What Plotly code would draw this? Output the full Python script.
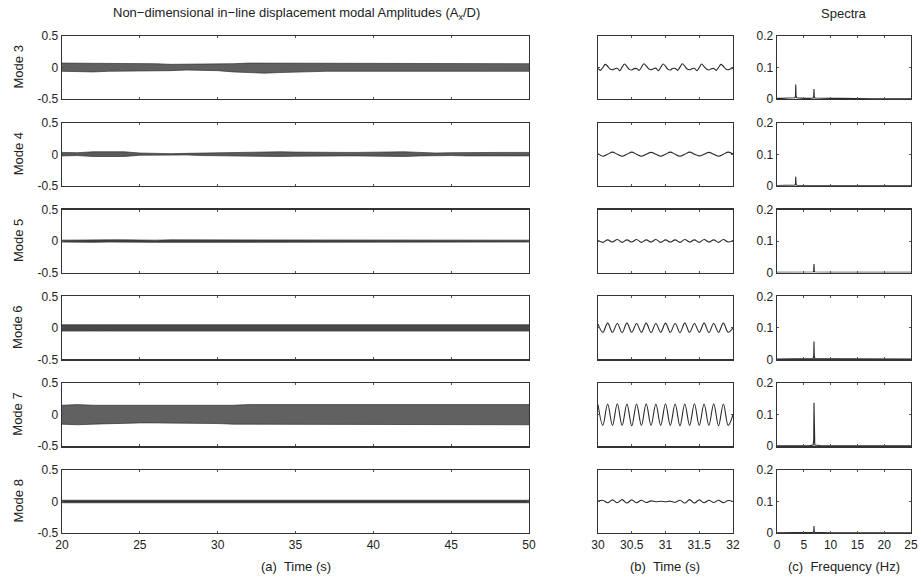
import numpy as np
import plotly.graph_objects as go

# ---------------- data ----------------
modes = ["Mode 3", "Mode 4", "Mode 5", "Mode 6", "Mode 7", "Mode 8"]

# (a) envelopes of the 20-50 s records, read every 1 s
env_time = list(range(20, 51))
env_upper = [
    [0.07,0.07,0.06,0.07,0.06,0.06,0.06,0.05,0.05,0.05,0.05,0.06,0.07,0.07,0.07,0.06,0.06,0.06,0.06,0.06,0.06,0.07,0.06,0.06,0.06,0.06,0.06,0.07,0.07,0.06,0.06],
    [0.03,0.025,0.04,0.045,0.04,0.02,0.01,0.01,0.015,0.02,0.03,0.035,0.03,0.04,0.04,0.035,0.03,0.03,0.03,0.03,0.035,0.04,0.04,0.03,0.02,0.025,0.03,0.035,0.03,0.03,0.03],
    [0.015,0.02,0.015,0.02,0.02,0.015,0.015,0.02,0.02,0.015,0.02,0.02,0.02,0.015,0.015,0.02,0.02,0.015,0.015,0.015,0.015,0.015,0.015,0.015,0.015,0.015,0.015,0.015,0.02,0.015,0.015],
    [0.05,0.05,0.045,0.05,0.045,0.05,0.05,0.045,0.05,0.05,0.055,0.05,0.05,0.045,0.05,0.05,0.055,0.05,0.05,0.045,0.05,0.05,0.05,0.045,0.05,0.05,0.05,0.045,0.05,0.05,0.05],
    [0.15,0.16,0.15,0.15,0.14,0.14,0.15,0.14,0.15,0.15,0.15,0.15,0.16,0.16,0.15,0.15,0.16,0.16,0.16,0.15,0.15,0.16,0.15,0.15,0.15,0.15,0.15,0.15,0.16,0.16,0.16],
    [0.02,0.02,0.02,0.02,0.02,0.02,0.02,0.02,0.025,0.025,0.025,0.03,0.03,0.025,0.02,0.02,0.025,0.02,0.02,0.02,0.02,0.02,0.02,0.02,0.02,0.02,0.02,0.02,0.02,0.02,0.02],
]
env_lower = [
    [-0.06,-0.07,-0.07,-0.06,-0.06,-0.06,-0.05,-0.05,-0.04,-0.04,-0.05,-0.07,-0.08,-0.09,-0.08,-0.07,-0.07,-0.06,-0.06,-0.06,-0.06,-0.07,-0.07,-0.06,-0.06,-0.06,-0.06,-0.07,-0.07,-0.06,-0.06],
    [-0.025,-0.02,-0.035,-0.04,-0.035,-0.015,-0.01,-0.01,-0.01,-0.02,-0.025,-0.03,-0.03,-0.035,-0.035,-0.03,-0.025,-0.025,-0.025,-0.025,-0.03,-0.035,-0.035,-0.025,-0.02,-0.02,-0.025,-0.03,-0.025,-0.025,-0.025],
    [-0.015,-0.02,-0.02,-0.015,-0.02,-0.015,-0.02,-0.02,-0.015,-0.02,-0.02,-0.02,-0.02,-0.02,-0.015,-0.02,-0.02,-0.02,-0.015,-0.015,-0.015,-0.015,-0.015,-0.015,-0.015,-0.015,-0.015,-0.015,-0.015,-0.015,-0.015],
    [-0.05,-0.055,-0.05,-0.05,-0.05,-0.05,-0.045,-0.05,-0.05,-0.05,-0.05,-0.05,-0.055,-0.05,-0.05,-0.05,-0.05,-0.055,-0.05,-0.05,-0.05,-0.05,-0.05,-0.05,-0.05,-0.05,-0.055,-0.05,-0.05,-0.05,-0.05],
    [-0.15,-0.16,-0.15,-0.14,-0.14,-0.13,-0.13,-0.13,-0.14,-0.14,-0.14,-0.15,-0.15,-0.15,-0.15,-0.16,-0.16,-0.16,-0.15,-0.15,-0.15,-0.15,-0.16,-0.15,-0.15,-0.15,-0.15,-0.15,-0.16,-0.16,-0.16],
    [-0.02,-0.02,-0.02,-0.02,-0.02,-0.02,-0.02,-0.02,-0.025,-0.025,-0.025,-0.03,-0.03,-0.025,-0.02,-0.02,-0.025,-0.02,-0.02,-0.02,-0.02,-0.02,-0.02,-0.02,-0.02,-0.02,-0.02,-0.02,-0.02,-0.02,-0.02],
]
env_fill = ["rgba(35,35,35,0.72)", "rgba(35,35,35,0.75)", "rgba(30,30,30,0.85)",
            "rgba(40,40,40,0.85)", "rgba(80,80,80,0.9)", "rgba(30,30,30,0.9)"]

# (b) 30-32 s close-ups (evenly spaced readings over the 2 s window)
zoom_mode3 = [-0.015,-0.045,0.0,0.05,0.02,-0.025,-0.035,-0.02,
              -0.012,-0.05,0.005,0.055,0.015,-0.03,-0.04,-0.018,
              -0.015,-0.045,0.0,0.06,0.025,-0.02,-0.035,-0.02,
              -0.01,-0.05,0.0,0.055,0.02,-0.03,-0.04,-0.015,
              -0.015,-0.045,0.005,0.06,0.02,-0.025,-0.035,-0.02,
              -0.012,-0.05,0.0,0.055,0.015,-0.025,-0.04,-0.02,
              -0.015,-0.045,0.0,0.05,0.02,-0.025,-0.035,-0.02,-0.015]
zoom_mode4 = [0.01,-0.03,0.0,0.035,0.0,-0.03,0.0,0.035,0.0,-0.03,0.0,0.03,0.0,-0.03,0.0,
              0.035,0.0,-0.03,0.0,0.035,0.0,-0.025,0.0,0.03,0.0,-0.03,0.0,0.035,0.005]
zoom_mode5 = [0.01,-0.02,0.02,-0.015,0.025,-0.02,0.02,-0.015,0.025,-0.02,0.02,-0.015,0.025,-0.02,0.02,
              -0.015,0.02,-0.02,0.025,-0.015,0.02,-0.02,0.025,-0.015,0.02,-0.02,0.025,-0.015,0.01]
zoom_mode6 = [0.06,-0.07,0.075,-0.07,0.07,-0.075,0.075,-0.07,0.07,-0.07,0.075,-0.075,0.07,-0.07,0.075,
              -0.07,0.07,-0.075,0.075,-0.07,0.07,-0.07,0.075,-0.075,0.07,-0.07,0.075,-0.07,0.0]
zoom_mode7 = [0.16,-0.17,0.17,-0.17,0.175,-0.17,0.17,-0.175,0.17,-0.17,0.175,-0.17,0.17,-0.17,0.175,
              -0.17,0.17,-0.175,0.17,-0.17,0.175,-0.17,0.17,-0.17,0.175,-0.175,0.17,-0.17,0.0]
zoom_mode8 = [0.005,0.02,-0.02,0.025,-0.02,0.03,-0.025,0.025,-0.02,0.02,-0.015,0.01,-0.005,0.003,-0.003,
              0.005,-0.012,0.02,-0.025,0.03,-0.025,0.025,-0.02,0.02,-0.015,0.02,-0.02,0.015,0.0]
zoom_series = [zoom_mode3, zoom_mode4, zoom_mode5, zoom_mode6, zoom_mode7, zoom_mode8]

# (c) spectra
spec_freq = [0, 0.5, 1, 2, 3, 3.35, 3.45, 3.5, 3.55, 3.65, 4, 5, 6, 6.75, 6.85, 6.9, 6.95, 7.05, 8, 10, 12, 15, 18, 25]
spec_amp = [
    [0.002,0.003,0.002,0.003,0.003,0.004,0.01,0.046,0.01,0.004,0.003,0.002,0.002,0.003,0.008,0.032,0.008,0.003,0.002,0.002,0.002,0.001,0.001,0.001],
    [0.001,0.001,0.001,0.001,0.001,0.002,0.006,0.029,0.006,0.002,0.001,0.001,0.001,0.001,0.001,0.002,0.001,0.001,0.001,0.001,0.001,0.001,0.001,0.001],
    [0.001,0.001,0.001,0.001,0.001,0.001,0.001,0.001,0.001,0.001,0.001,0.001,0.001,0.002,0.006,0.027,0.006,0.002,0.001,0.001,0.001,0.001,0.001,0.001],
    [0.001,0.001,0.001,0.001,0.001,0.001,0.001,0.001,0.001,0.001,0.001,0.001,0.001,0.003,0.012,0.057,0.012,0.003,0.002,0.002,0.002,0.002,0.001,0.001],
    [0.001,0.001,0.001,0.001,0.001,0.001,0.001,0.001,0.001,0.001,0.001,0.001,0.001,0.004,0.02,0.138,0.02,0.004,0.002,0.002,0.001,0.001,0.001,0.001],
    [0.001,0.001,0.001,0.001,0.001,0.001,0.001,0.001,0.001,0.001,0.001,0.001,0.001,0.002,0.005,0.022,0.005,0.002,0.001,0.001,0.001,0.001,0.001,0.001],
]

col1_ticks = [20, 25, 30, 35, 40, 45, 50]
col2_ticks = [30, 30.5, 31, 31.5, 32]
col3_ticks = [0, 5, 10, 15, 20, 25]

# ---------------- layout geometry ----------------
W, H = 921, 579
col_px = [(62, 529), (598, 733), (777, 911)]
row_top0, row_step, row_h = 36, 86.8, 63

def px_x(p):
    return p / W

def px_y(p):
    return 1 - p / H

FONT = "Liberation Sans, Arial, sans-serif"
LINE = "#2a2a2a"

fig = go.Figure()
layout = dict(template="none", width=W, height=H,
              margin=dict(l=0, r=0, t=0, b=0, pad=0, autoexpand=False),
              paper_bgcolor="white", plot_bgcolor="white", showlegend=False,
              font=dict(family=FONT, size=12, color="#222"))
annotations = []

for r in range(6):
    top = row_top0 + r * row_step
    bot = top + row_h
    ydom = [px_y(bot), px_y(top)]
    for c in range(3):
        n = r * 3 + c + 1
        sfx = "" if n == 1 else str(n)
        xa, ya = "x" + sfx, "y" + sfx
        xdom = [px_x(col_px[c][0]), px_x(col_px[c][1])]
        last = (r == 5)
        if c == 0:
            xr, xt = [20, 50], col1_ticks
            yr, yt, ytt = [-0.5, 0.5], [-0.5, 0, 0.5], ["-0.5", "0", "0.5"]
            showy = True
        elif c == 1:
            xr, xt = [30, 32], col2_ticks
            yr, yt, ytt = [-0.5, 0.5], [-0.5, 0, 0.5], ["-0.5", "0", "0.5"]
            showy = False
        else:
            xr, xt = [0, 25], col3_ticks
            yr, yt, ytt = [0, 0.2], [0, 0.1, 0.2], ["0", "0.1", "0.2"]
            showy = True
        common = dict(showline=True, linecolor="#333", linewidth=1.3, mirror="ticks",
                      ticks="inside", ticklen=2, tickcolor="#555", tickwidth=1,
                      showgrid=False, zeroline=False, fixedrange=True, automargin=False,
                      ticklabeloverflow="allow", tickfont=dict(size=12, color="#222"))
        layout["xaxis" + sfx] = dict(domain=xdom, anchor=ya, range=xr, tickvals=xt,
                                     ticktext=[("%g" % v) for v in xt],
                                     showticklabels=last, **common)
        layout["yaxis" + sfx] = dict(domain=ydom, anchor=xa, range=yr, tickvals=yt,
                                     ticktext=ytt, showticklabels=showy, **common)

        if c == 0:
            fig.add_trace(go.Scatter(x=env_time, y=env_lower[r], xaxis=xa, yaxis=ya,
                                     mode="lines", line=dict(color="#333", width=0.7),
                                     hoverinfo="skip"))
            fig.add_trace(go.Scatter(x=env_time, y=env_upper[r], xaxis=xa, yaxis=ya,
                                     mode="lines", line=dict(color="#333", width=0.7),
                                     fill="tonexty", fillcolor=env_fill[r],
                                     hoverinfo="skip"))
        elif c == 1:
            vals = zoom_series[r]
            t = np.linspace(30, 32, len(vals))
            fig.add_trace(go.Scatter(x=t, y=vals, xaxis=xa, yaxis=ya, mode="lines",
                                     line=dict(color=LINE, width=1.1, shape="spline"),
                                     hoverinfo="skip"))
        else:
            fig.add_trace(go.Scatter(x=spec_freq, y=spec_amp[r], xaxis=xa, yaxis=ya,
                                     mode="lines", line=dict(color=LINE, width=1.1),
                                     hoverinfo="skip"))

    annotations.append(dict(text=modes[r], x=px_x(18), y=px_y(top + row_h / 2),
                            xref="paper", yref="paper", textangle=-90, showarrow=False,
                            font=dict(size=13, family=FONT, color="#222"),
                            xanchor="center", yanchor="middle"))

annotations += [
    dict(text="Non\u2212dimensional in\u2212line displacement modal Amplitudes (A<sub>x</sub>/D)",
         x=px_x(296), y=px_y(13), xref="paper", yref="paper", showarrow=False,
         font=dict(size=13, family=FONT, color="#222"), xanchor="center", yanchor="middle"),
    dict(text="Spectra", x=px_x(844), y=px_y(13), xref="paper", yref="paper", showarrow=False,
         font=dict(size=13, family=FONT, color="#222"), xanchor="center", yanchor="middle"),
    dict(text="(a)  Time (s)", x=px_x(296), y=px_y(566), xref="paper", yref="paper",
         showarrow=False, font=dict(size=13, family=FONT, color="#222"),
         xanchor="center", yanchor="middle"),
    dict(text="(b)  Time (s)", x=px_x(665), y=px_y(566), xref="paper", yref="paper",
         showarrow=False, font=dict(size=13, family=FONT, color="#222"),
         xanchor="center", yanchor="middle"),
    dict(text="(c)  Frequency (Hz)", x=px_x(844), y=px_y(566), xref="paper", yref="paper",
         showarrow=False, font=dict(size=13, family=FONT, color="#222"),
         xanchor="center", yanchor="middle"),
]
layout["annotations"] = annotations
fig.update_layout(**layout)
fig.write_html("out.html",
               config={"displayModeBar": False, "staticPlot": True},
               post_script="document.body.style.margin='0';document.body.style.overflow='hidden';")
